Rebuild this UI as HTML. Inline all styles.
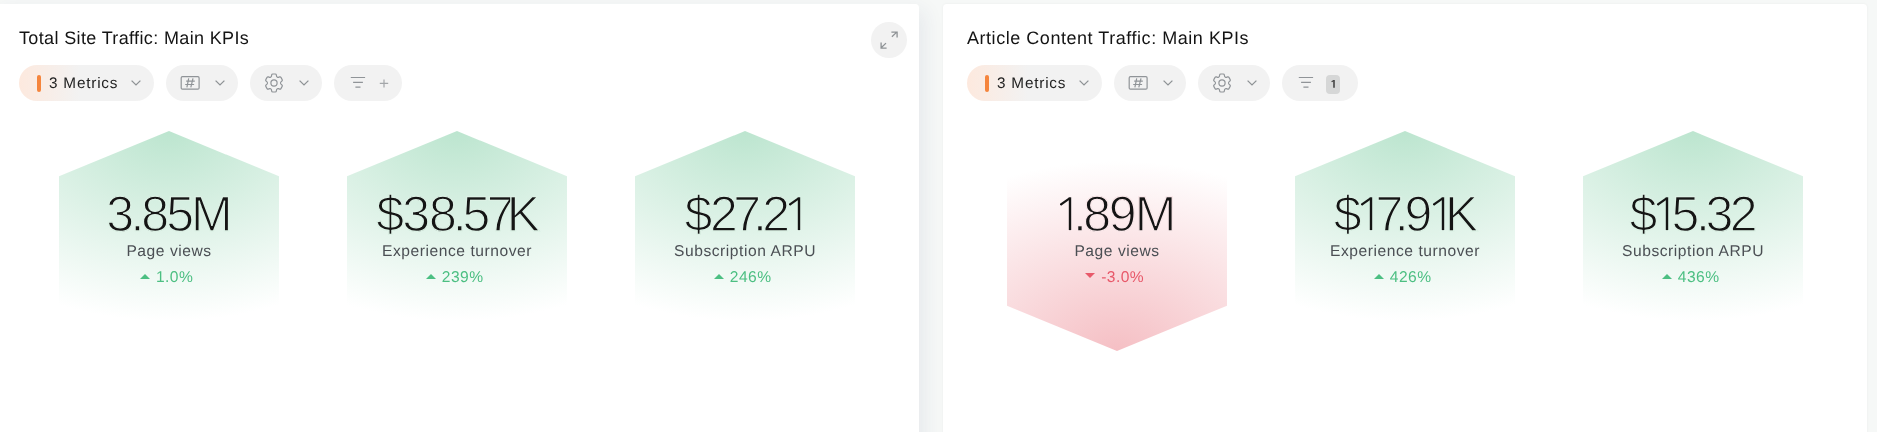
<!DOCTYPE html>
<html><head><meta charset="utf-8">
<style>
*{box-sizing:border-box;margin:0;padding:0}
html,body{width:1877px;height:432px;overflow:hidden;background:#f6f8f7;font-family:"Liberation Sans",sans-serif;text-rendering:geometricPrecision}
.card{will-change:transform}
.card{position:absolute;top:4px;width:924px;height:460px;background:#fff;border-radius:4px;box-shadow:0 0 4px rgba(0,0,0,0.05)}
.c1{left:-5px;box-shadow:6px 6px 20px rgba(40,50,110,0.075)}
.c2{left:943px;box-shadow:0 0 3px rgba(0,0,0,0.05)}
.title{position:absolute;left:24px;top:23px;font-size:18px;line-height:22px;color:#141414;white-space:nowrap;letter-spacing:0.42px}
.pill{position:absolute;top:61px;height:36px;border-radius:18px;background:#f2f2f2}
.p1{left:24px;width:135px;background:linear-gradient(90deg,#fde9de 0%,#f2f2f2 45%)}
.p2{left:171px;width:72px}
.p3{left:255px;width:72px}
.p4{left:339px;width:68px}
.bar{position:absolute;left:18px;top:10px;width:4px;height:17px;border-radius:2px;background:#f5853d}
.mt{position:absolute;left:30px;top:9.6px;font-size:15.3px;line-height:18px;color:#222;white-space:nowrap;letter-spacing:0.8px}
.chev{position:absolute;top:15px}
.badge{position:absolute;left:44px;top:10px;width:14px;height:19px;border-radius:4px;background:#d6d7d7}
.badge svg{position:absolute;left:0;top:0}
.hex{position:absolute;top:127px;width:220px;height:220px}
.hex .bg{position:absolute;left:0;top:0;width:220px;height:220px;clip-path:polygon(50% 0,100% 20.6%,100% 79.4%,50% 100%,0 79.4%,0 20.6%)}
.g .bg{background:radial-gradient(ellipse 274px 190px at 50% 0%,#bce5cf 0%,rgba(188,229,207,0) 100%)}
.r .bg{background:radial-gradient(ellipse 274px 190px at 50% 100%,#f5bfc4 0%,rgba(245,191,196,0) 100%)}
.val{position:absolute;left:0;top:59.2px;width:220px;height:50px;font-size:50px;line-height:48px;color:#151515;white-space:nowrap}
.val span{position:absolute;top:0;-webkit-text-stroke:1.3px #dcf1e5}
.r .val span{-webkit-text-stroke-color:#fae8ea}
.val svg.one{position:absolute;top:6.6px;fill:#151515}
.lbl{position:absolute;left:0;width:220px;top:111.6px;text-align:center;font-size:15.6px;line-height:18px;color:#4b4f54;white-space:nowrap;letter-spacing:0.55px}
.chg{position:absolute;left:0;width:220px;padding-right:5px;top:139px;text-align:center;font-size:15.6px;line-height:16px;color:#4cbf82;white-space:nowrap;letter-spacing:0.45px}
.r .chg{color:#e8596a}
.tri{display:inline-block;width:0;height:0;border-left:5px solid transparent;border-right:5px solid transparent;vertical-align:middle;margin-right:6.3px;position:relative;top:-2px}
.g .tri{border-bottom:5px solid #4cbf82;top:-1.2px}
.r .tri{border-top:5px solid #e8596a;top:-2px}
.exp{position:absolute;left:876px;top:18px;width:36px;height:36px;border-radius:18px;background:#f2f2f2}

</style></head><body>
<div class="card c1">
  <div class="title" style="letter-spacing:0.36px">Total Site Traffic: Main KPIs</div>
  <div class="exp"><svg width="36" height="36" viewBox="0 0 36 36" fill="none" stroke="#8e9295" stroke-width="1.3"><path d="M20.9 14.7L26 9.9M20.4 10.1H26.1V15.4"/><path d="M15 21.1L9.9 26M10.1 20.4V26.1H15.6"/></svg></div>
  <div class="pill p1"><div class="bar"></div><div class="mt">3 Metrics</div><svg class="chev" style="left:112px" width="11" height="6" viewBox="0 0 11 6" fill="none" stroke="#8e9295" stroke-width="1.3"><path d="M0.6 0.6L5.0 4.9L9.4 0.6"/></svg></div>
  <div class="pill p2"><svg style="position:absolute;left:14px;top:11px" width="21" height="15" viewBox="0 0 21 15" fill="none" stroke="#909498" stroke-width="1.2"><rect x="1.2" y="0.7" width="17.9" height="12.5" rx="1.2"/><path d="M8.7 2.4L6.9 11.3M13 2.4L10.8 11.3M6.2 5.2H14.8M5.2 8.5H14.1"/></svg><svg class="chev" style="left:49px" width="11" height="6" viewBox="0 0 11 6" fill="none" stroke="#8e9295" stroke-width="1.3"><path d="M0.6 0.6L5.0 4.9L9.4 0.6"/></svg></div>
  <div class="pill p3"><svg style="position:absolute;left:12.1px;top:6px" width="24" height="24" viewBox="0 0 24 24" fill="none" stroke="#909498" stroke-width="1.2" stroke-linejoin="round"><g transform="translate(12 12) scale(0.97 1) translate(-12 -12)"><path d="M9.594 3.94c.09-.542.56-.94 1.11-.94h2.593c.55 0 1.02.398 1.11.94l.213 1.281c.063.374.313.686.645.87.074.04.147.083.22.127.325.196.72.257 1.075.124l1.217-.456a1.125 1.125 0 0 1 1.37.49l1.296 2.247a1.125 1.125 0 0 1-.26 1.431l-1.003.827c-.293.241-.438.613-.43.992a7.723 7.723 0 0 1 0 .255c-.008.378.137.75.43.991l1.004.827c.424.35.534.955.26 1.43l-1.298 2.247a1.125 1.125 0 0 1-1.369.491l-1.217-.456c-.355-.133-.75-.072-1.076.124a6.47 6.47 0 0 1-.22.128c-.331.183-.581.495-.644.869l-.213 1.281c-.09.543-.56.94-1.11.94h-2.594c-.55 0-1.019-.398-1.11-.94l-.213-1.281c-.062-.374-.312-.686-.644-.87a6.52 6.52 0 0 1-.22-.127c-.325-.196-.72-.257-1.076-.124l-1.217.456a1.125 1.125 0 0 1-1.369-.49l-1.297-2.247a1.125 1.125 0 0 1 .26-1.431l1.004-.827c.292-.24.437-.613.43-.991a6.932 6.932 0 0 1 0-.255c.007-.38-.138-.751-.43-.992l-1.004-.827a1.125 1.125 0 0 1-.26-1.43l1.297-2.247a1.125 1.125 0 0 1 1.37-.491l1.216.456c.356.133.751.072 1.076-.124.072-.044.146-.086.22-.128.332-.183.582-.495.644-.869l.214-1.28Z"/></g><circle cx="12" cy="12" r="3.1"/></svg><svg class="chev" style="left:49px" width="11" height="6" viewBox="0 0 11 6" fill="none" stroke="#8e9295" stroke-width="1.3"><path d="M0.6 0.6L5.0 4.9L9.4 0.6"/></svg></div>
  <div class="pill p4"><svg style="position:absolute;left:16px;top:11px" width="16" height="13" viewBox="0 0 16 13" fill="none" stroke="#909498" stroke-width="1.2"><path d="M0.8 1.5H15.1M3.1 6.3H12.9M5.4 11.1H10.5"/></svg><svg style="position:absolute;left:45px;top:13.6px" width="10" height="10" viewBox="0 0 10 10" fill="none" stroke="#a3a6a9" stroke-width="1.2"><path d="M5 0.5V8.6M0.8 4.35H9.2"/></svg></div>
  <div class="hex g" style="left:64px"><div class="bg"></div><div class="val"><span style="left:47.14px">3</span><span style="left:71.45px">.</span><span style="left:82.30px">8</span><span style="left:107.35px">5</span><span style="left:132.07px">M</span></div><div class="lbl">Page views</div><div class="chg"><span class="tri"></span>1.0%</div></div>
  <div class="hex g" style="left:352px"><div class="bg"></div><div class="val"><span style="left:29.33px">&#36;</span><span style="left:55.34px">3</span><span style="left:82.10px">8</span><span style="left:105.85px">.</span><span style="left:115.55px">5</span><span style="left:139.67px">7</span><span style="left:159.86px">K</span></div><div class="lbl">Experience turnover</div><div class="chg"><span class="tri"></span>239%</div></div>
  <div class="hex g" style="left:640px"><div class="bg"></div><div class="val"><span style="left:49.53px">&#36;</span><span style="left:74.90px">2</span><span style="left:98.27px">7</span><span style="left:118.05px">.</span><span style="left:127.30px">2</span><svg class="one" style="left:154.10px" width="13" height="34" viewBox="0 0 13 34"><path d="M8.8 0.3H11.2V33.1H8.8Z"/><path d="M0.4 7.9L9.6 1.3" stroke="#151515" stroke-width="2.2" fill="none"/></svg></div><div class="lbl">Subscription ARPU</div><div class="chg"><span class="tri"></span>246%</div></div>
</div>
<div class="card c2">
  <div class="title" style="letter-spacing:0.54px">Article Content Traffic: Main KPIs</div>
  <div class="pill p1"><div class="bar"></div><div class="mt">3 Metrics</div><svg class="chev" style="left:112px" width="11" height="6" viewBox="0 0 11 6" fill="none" stroke="#8e9295" stroke-width="1.3"><path d="M0.6 0.6L5.0 4.9L9.4 0.6"/></svg></div>
  <div class="pill p2"><svg style="position:absolute;left:14px;top:11px" width="21" height="15" viewBox="0 0 21 15" fill="none" stroke="#909498" stroke-width="1.2"><rect x="1.2" y="0.7" width="17.9" height="12.5" rx="1.2"/><path d="M8.7 2.4L6.9 11.3M13 2.4L10.8 11.3M6.2 5.2H14.8M5.2 8.5H14.1"/></svg><svg class="chev" style="left:49px" width="11" height="6" viewBox="0 0 11 6" fill="none" stroke="#8e9295" stroke-width="1.3"><path d="M0.6 0.6L5.0 4.9L9.4 0.6"/></svg></div>
  <div class="pill p3"><svg style="position:absolute;left:12.1px;top:6px" width="24" height="24" viewBox="0 0 24 24" fill="none" stroke="#909498" stroke-width="1.2" stroke-linejoin="round"><g transform="translate(12 12) scale(0.97 1) translate(-12 -12)"><path d="M9.594 3.94c.09-.542.56-.94 1.11-.94h2.593c.55 0 1.02.398 1.11.94l.213 1.281c.063.374.313.686.645.87.074.04.147.083.22.127.325.196.72.257 1.075.124l1.217-.456a1.125 1.125 0 0 1 1.37.49l1.296 2.247a1.125 1.125 0 0 1-.26 1.431l-1.003.827c-.293.241-.438.613-.43.992a7.723 7.723 0 0 1 0 .255c-.008.378.137.75.43.991l1.004.827c.424.35.534.955.26 1.43l-1.298 2.247a1.125 1.125 0 0 1-1.369.491l-1.217-.456c-.355-.133-.75-.072-1.076.124a6.47 6.47 0 0 1-.22.128c-.331.183-.581.495-.644.869l-.213 1.281c-.09.543-.56.94-1.11.94h-2.594c-.55 0-1.019-.398-1.11-.94l-.213-1.281c-.062-.374-.312-.686-.644-.87a6.52 6.52 0 0 1-.22-.127c-.325-.196-.72-.257-1.076-.124l-1.217.456a1.125 1.125 0 0 1-1.369-.49l-1.297-2.247a1.125 1.125 0 0 1 .26-1.431l1.004-.827c.292-.24.437-.613.43-.991a6.932 6.932 0 0 1 0-.255c.007-.38-.138-.751-.43-.992l-1.004-.827a1.125 1.125 0 0 1-.26-1.43l1.297-2.247a1.125 1.125 0 0 1 1.37-.491l1.216.456c.356.133.751.072 1.076-.124.072-.044.146-.086.22-.128.332-.183.582-.495.644-.869l.214-1.28Z"/></g><circle cx="12" cy="12" r="3.1"/></svg><svg class="chev" style="left:49px" width="11" height="6" viewBox="0 0 11 6" fill="none" stroke="#8e9295" stroke-width="1.3"><path d="M0.6 0.6L5.0 4.9L9.4 0.6"/></svg></div>
  <div class="pill p4" style="width:76px"><svg style="position:absolute;left:16px;top:11px" width="16" height="13" viewBox="0 0 16 13" fill="none" stroke="#909498" stroke-width="1.2"><path d="M0.8 1.5H15.1M3.1 6.3H12.9M5.4 11.1H10.5"/></svg><div class="badge"><svg width="14" height="19" viewBox="0 0 14 19"><path d="M7.1 5.1H8.9V12.8H7.1Z" fill="#555"/><path d="M5.6 6.8L7.8 5.4" stroke="#444" stroke-width="1.2" fill="none"/></svg></div></div>
  <div class="hex r" style="left:64px"><div class="bg"></div><div class="val"><svg class="one" style="left:53.00px" width="13" height="34" viewBox="0 0 13 34"><path d="M8.8 0.3H11.2V33.1H8.8Z"/><path d="M0.4 7.9L9.6 1.3" stroke="#151515" stroke-width="2.2" fill="none"/></svg><span style="left:65.95px">.</span><span style="left:76.20px">8</span><span style="left:101.81px">9</span><span style="left:127.87px">M</span></div><div class="lbl">Page views</div><div class="chg"><span class="tri"></span>-3.0%</div></div>
  <div class="hex g" style="left:352px"><div class="bg"></div><div class="val"><span style="left:38.63px">&#36;</span><svg class="one" style="left:66.40px" width="13" height="34" viewBox="0 0 13 34"><path d="M8.8 0.3H11.2V33.1H8.8Z"/><path d="M0.4 7.9L9.6 1.3" stroke="#151515" stroke-width="2.2" fill="none"/></svg><span style="left:80.47px">7</span><span style="left:99.75px">.</span><span style="left:109.61px">9</span><svg class="one" style="left:137.70px" width="13" height="34" viewBox="0 0 13 34"><path d="M8.8 0.3H11.2V33.1H8.8Z"/><path d="M0.4 7.9L9.6 1.3" stroke="#151515" stroke-width="2.2" fill="none"/></svg><span style="left:150.06px">K</span></div><div class="lbl">Experience turnover</div><div class="chg"><span class="tri"></span>426%</div></div>
  <div class="hex g" style="left:640px"><div class="bg"></div><div class="val"><span style="left:46.53px">&#36;</span><svg class="one" style="left:73.90px" width="13" height="34" viewBox="0 0 13 34"><path d="M8.8 0.3H11.2V33.1H8.8Z"/><path d="M0.4 7.9L9.6 1.3" stroke="#151515" stroke-width="2.2" fill="none"/></svg><span style="left:88.55px">5</span><span style="left:112.95px">.</span><span style="left:122.44px">3</span><span style="left:146.70px">2</span></div><div class="lbl">Subscription ARPU</div><div class="chg"><span class="tri"></span>436%</div></div>
</div>
</body></html>
